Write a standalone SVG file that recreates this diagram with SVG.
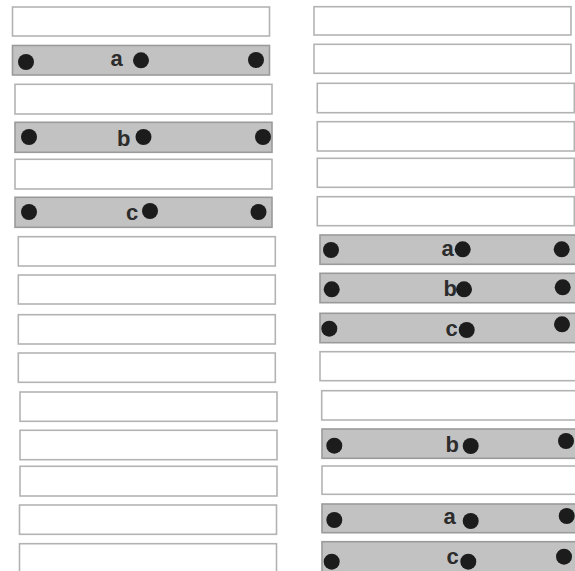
<svg xmlns="http://www.w3.org/2000/svg" width="575" height="571" viewBox="0 0 575 571">
<style>
.w{fill:#ffffff;stroke:#b3b3b3;stroke-width:1.6}
.g{fill:#c2c2c2;stroke:#9a9a9a;stroke-width:1.6}
.d{fill:#1c1c1c}
.t{font-family:"Liberation Sans",Arial,sans-serif;font-weight:bold;font-size:22px;fill:#2c2c2c}
</style>
<rect width="575" height="571" fill="#ffffff"/>
<g id="left-column">
<g id="L1"><rect class="w" x="12.5" y="7" width="257" height="29"/></g>
<g id="L2"><rect class="g" x="12.5" y="45.5" width="257" height="29.5"/><circle class="d" cx="26" cy="62" r="8"/><text class="t" x="110.5" y="66">a</text><circle class="d" cx="141" cy="60.3" r="8"/><circle class="d" cx="256" cy="60" r="8"/></g>
<g id="L3"><rect class="w" x="15" y="84.3" width="257" height="29.7"/></g>
<g id="L4"><rect class="g" x="15" y="122.3" width="257" height="30"/><circle class="d" cx="29" cy="137" r="8"/><text class="t" x="117" y="146">b</text><circle class="d" cx="143.5" cy="137" r="8"/><circle class="d" cx="263" cy="137" r="8"/></g>
<g id="L5"><rect class="w" x="15" y="159.3" width="257" height="29.7"/></g>
<g id="L6"><rect class="g" x="15" y="197.3" width="257" height="30"/><circle class="d" cx="29" cy="212" r="8"/><text class="t" x="126" y="220">c</text><circle class="d" cx="150" cy="211" r="8"/><circle class="d" cx="258.5" cy="212" r="8"/></g>
<g id="L7"><rect class="w" x="18.3" y="236.7" width="257" height="29.3"/></g>
<g id="L8"><rect class="w" x="18.3" y="275" width="257" height="29"/></g>
<g id="L9"><rect class="w" x="18.3" y="314.7" width="257" height="29.3"/></g>
<g id="L10"><rect class="w" x="18.3" y="353" width="257" height="29.3"/></g>
<g id="L11"><rect class="w" x="20" y="392" width="257" height="29.3"/></g>
<g id="L12"><rect class="w" x="20" y="430.3" width="257" height="29.4"/></g>
<g id="L13"><rect class="w" x="20" y="466.3" width="257" height="29.7"/></g>
<g id="L14"><rect class="w" x="19.5" y="505" width="257" height="29.3"/></g>
<g id="L15"><rect class="w" x="19.5" y="543.7" width="257" height="35"/></g>
</g>
<g id="right-column">
<g id="R1"><rect class="w" x="314" y="6.7" width="257" height="28.3"/></g>
<g id="R2"><rect class="w" x="314" y="44.3" width="257" height="29"/></g>
<g id="R3"><rect class="w" x="317.3" y="83.3" width="257" height="29.4"/></g>
<g id="R4"><rect class="w" x="317.3" y="121.7" width="257" height="29.3"/></g>
<g id="R5"><rect class="w" x="317.3" y="158.3" width="257" height="29"/></g>
<g id="R6"><rect class="w" x="317.3" y="196.7" width="257" height="29"/></g>
<g id="R7"><rect class="g" x="320" y="235" width="258" height="29.3"/><circle class="d" cx="331" cy="250" r="8"/><text class="t" x="441.5" y="255.5">a</text><circle class="d" cx="462.7" cy="249.3" r="8"/><circle class="d" cx="561.7" cy="249.3" r="8"/></g>
<g id="R8"><rect class="g" x="320" y="273.3" width="258" height="29.4"/><circle class="d" cx="331.7" cy="289.3" r="8"/><text class="t" x="443.5" y="296">b</text><circle class="d" cx="464" cy="289.3" r="8"/><circle class="d" cx="562.7" cy="287.3" r="8"/></g>
<g id="R9"><rect class="g" x="320" y="313.3" width="258" height="29.4"/><circle class="d" cx="329.3" cy="328.7" r="8"/><text class="t" x="445.5" y="336">c</text><circle class="d" cx="466.7" cy="330" r="8"/><circle class="d" cx="562" cy="324.3" r="8"/></g>
<g id="R10"><rect class="w" x="320" y="351.7" width="258" height="29"/></g>
<g id="R11"><rect class="w" x="321.7" y="390.7" width="258" height="29.3"/></g>
<g id="R12"><rect class="g" x="322" y="429" width="258" height="29.3"/><circle class="d" cx="334.3" cy="445.7" r="8"/><text class="t" x="445.5" y="452">b</text><circle class="d" cx="470.7" cy="446" r="8"/><circle class="d" cx="566" cy="441" r="8"/></g>
<g id="R13"><rect class="w" x="322" y="466" width="258" height="28.3"/></g>
<g id="R14"><rect class="g" x="322" y="504" width="258" height="28.7"/><circle class="d" cx="334.3" cy="520" r="8"/><text class="t" x="443.5" y="523.5">a</text><circle class="d" cx="470.7" cy="521" r="8"/><circle class="d" cx="566.7" cy="516" r="8"/></g>
<g id="R15"><rect class="g" x="322" y="541.7" width="258" height="40"/><circle class="d" cx="331.7" cy="561.7" r="8"/><text class="t" x="446.5" y="564">c</text><circle class="d" cx="468.3" cy="561.7" r="8"/><circle class="d" cx="564" cy="556.7" r="8"/></g>
</g>
<g id="connectors"/>
</svg>
